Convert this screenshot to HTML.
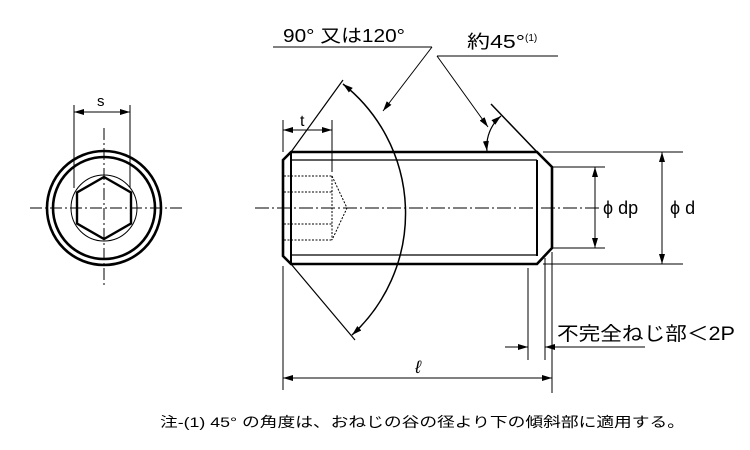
<!DOCTYPE html>
<html><head><meta charset="utf-8"><style>
html,body{margin:0;padding:0;background:#fff}
svg{display:block}
text{font-family:"Liberation Sans","Noto Sans CJK JP",sans-serif;fill:#000}
</style></head><body>
<svg width="750" height="450" viewBox="0 0 750 450" xmlns="http://www.w3.org/2000/svg">
<defs>
<marker id="a" viewBox="0 0 10 6" refX="10" refY="3" markerWidth="10" markerHeight="6" orient="auto-start-reverse" markerUnits="userSpaceOnUse"><path d="M0,0L10,3L0,6z" fill="#000"/></marker>
</defs>
<g stroke="#000" fill="none">
<circle cx="104" cy="208" r="57" stroke-width="2.6"/>
<circle cx="104" cy="208" r="51" stroke-width="2.6"/>
<circle cx="104" cy="208" r="33" stroke-width="1"/>
<polygon points="104,177 131,192.5 131,223.5 104,239 77,223.5 77,192.5" stroke-width="2.4"/>
<line x1="30" y1="208" x2="185" y2="208" stroke-width="1" stroke-dasharray="12,3,2,3"/>
<line x1="104" y1="128" x2="104" y2="285" stroke-width="1" stroke-dasharray="12,3,2,3"/>
<line x1="74" y1="105" x2="74" y2="188" stroke-width="1"/>
<line x1="130" y1="105" x2="130" y2="188" stroke-width="1"/>
<line x1="74" y1="112" x2="130" y2="112" stroke-width="1" marker-start="url(#a)" marker-end="url(#a)"/>
<path d="M291,152 L537,152 L552,167 L552,248 L537,264 L291,264 L283,256 L283,160 Z" stroke-width="2.6"/>
<line x1="291" y1="152" x2="291" y2="264" stroke-width="2"/>
<line x1="537" y1="160" x2="537" y2="256" stroke-width="2"/>
<line x1="291" y1="160" x2="537" y2="160" stroke-width="1.2"/>
<line x1="291" y1="255" x2="537" y2="255" stroke-width="1.2"/>
<g stroke-width="1" stroke-dasharray="2,1.5">
<line x1="284" y1="176" x2="332" y2="176"/><line x1="284" y1="192" x2="332" y2="192"/>
<line x1="284" y1="224" x2="332" y2="224"/><line x1="284" y1="240" x2="332" y2="240"/>
<line x1="332" y1="176" x2="332" y2="240"/>
<polyline points="332,176 347,208 332,240"/>
</g>
<line x1="255" y1="208" x2="600" y2="208" stroke-width="1" stroke-dasharray="14,3,2,3"/>
<line x1="343" y1="80" x2="291" y2="152" stroke-width="1.2"/>
<line x1="291" y1="264" x2="355" y2="340" stroke-width="1.2"/>
<path d="M343,84 A165,165 0 0 1 352,335" stroke-width="1.5" marker-start="url(#a)" marker-end="url(#a)"/>
<line x1="283" y1="120" x2="283" y2="152" stroke-width="1"/>
<line x1="332" y1="120" x2="332" y2="172" stroke-width="1"/>
<line x1="283" y1="130" x2="332" y2="130" stroke-width="1" marker-start="url(#a)" marker-end="url(#a)"/>
<line x1="273" y1="47" x2="432" y2="47" stroke-width="1"/>
<line x1="432" y1="47" x2="383" y2="111" stroke-width="1" marker-end="url(#a)"/>
<line x1="437" y1="56" x2="558" y2="56" stroke-width="1"/>
<line x1="437" y1="56" x2="488" y2="127" stroke-width="1" marker-end="url(#a)"/>
<line x1="491" y1="104" x2="537" y2="152" stroke-width="1.5"/>
<path d="M501,116 A40,40 0 0 0 487,151" stroke-width="1.2" marker-start="url(#a)" marker-end="url(#a)"/>
<line x1="552" y1="167" x2="605" y2="167" stroke-width="1"/>
<line x1="552" y1="248" x2="605" y2="248" stroke-width="1"/>
<line x1="595" y1="167" x2="595" y2="248" stroke-width="1" marker-start="url(#a)" marker-end="url(#a)"/>
<line x1="543" y1="152" x2="683" y2="152" stroke-width="1"/>
<line x1="543" y1="264" x2="683" y2="264" stroke-width="1"/>
<line x1="662" y1="152" x2="662" y2="264" stroke-width="1" marker-start="url(#a)" marker-end="url(#a)"/>
<line x1="283" y1="266" x2="283" y2="390" stroke-width="1"/>
<line x1="552" y1="252" x2="552" y2="393" stroke-width="1"/>
<line x1="545" y1="258" x2="545" y2="360" stroke-width="1"/>
<line x1="528" y1="268" x2="528" y2="360" stroke-width="1"/>
<line x1="283" y1="378" x2="552" y2="378" stroke-width="1" marker-start="url(#a)" marker-end="url(#a)"/>
<line x1="505" y1="347" x2="528" y2="347" stroke-width="1" marker-end="url(#a)"/>
<line x1="645" y1="347" x2="545" y2="347" stroke-width="1" marker-end="url(#a)"/>
</g>
<text x="97" y="106" font-size="15">s</text>
<text x="300" y="126" font-size="16">t</text>
<text x="283" y="42" font-size="18" textLength="122" lengthAdjust="spacingAndGlyphs">90° 又は120°</text>
<text x="467" y="48" font-size="18"><tspan textLength="58" lengthAdjust="spacingAndGlyphs">約45°</tspan><tspan font-size="10" dy="-7">(1)</tspan></text>
<text x="603" y="214" font-size="18">ϕ dp</text>
<text x="670" y="214" font-size="18">ϕ d</text>
<text x="415" y="373" font-size="18" font-style="italic">ℓ</text>
<text x="557" y="340" font-size="19" textLength="178" lengthAdjust="spacingAndGlyphs">不完全ねじ部＜2P</text>
<text x="160" y="427" font-size="14" textLength="525" lengthAdjust="spacingAndGlyphs">注-(1) 45° の角度は、おねじの谷の径より下の傾斜部に適用する。</text>
</svg>
</body></html>
